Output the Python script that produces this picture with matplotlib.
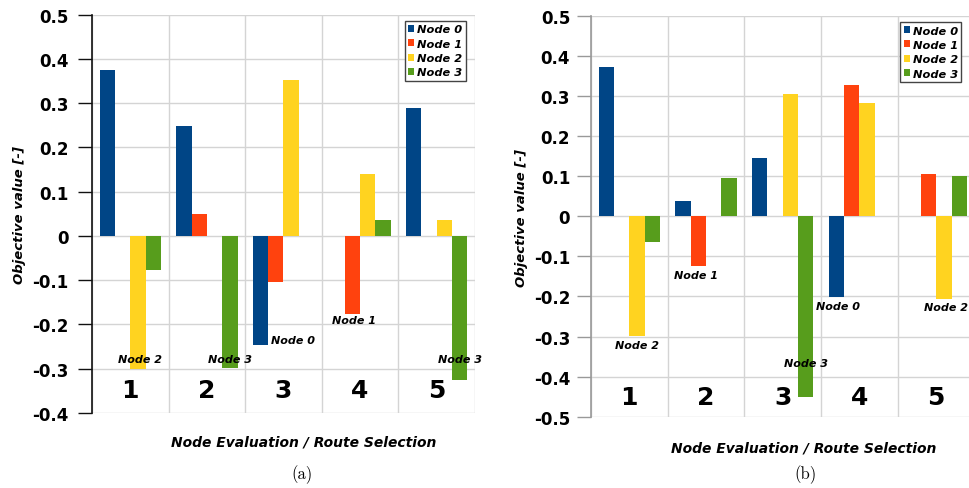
import numpy as np
import matplotlib
matplotlib.use('agg')
import matplotlib.pyplot as plt
from matplotlib.ticker import FixedLocator, FuncFormatter

# DATA ###############################################################

groups = ['1', '2', '3', '4', '5']
nodes = ['Node 0', 'Node 1', 'Node 2', 'Node 3']

# (a) objective value of every node at each evaluation step
a_node0 = [0.375, 0.248, -0.247, 0.0, 0.290]
a_node1 = [0.0, 0.049, -0.104, -0.177, 0.0]
a_node2 = [-0.300, 0.0, 0.353, 0.141, 0.035]
a_node3 = [-0.076, -0.299, 0.0, 0.035, -0.325]
a_selected = [2, 3, 0, 1, 3]

# (b)
b_node0 = [0.373, 0.038, 0.145, -0.202, 0.0]
b_node1 = [0.0, -0.123, 0.0, 0.327, 0.105]
b_node2 = [-0.299, 0.0, 0.306, 0.282, -0.206]
b_node3 = [-0.063, 0.096, -0.451, 0.0, 0.101]
b_selected = [2, 1, 3, 0, 2]

# STYLE ##############################################################

COLORS = ['#004586', '#ff420e', '#ffd320', '#579d1c']
GRID = '#d4d4d4'
BAR_W = 0.2

plt.rcParams['font.family'] = 'DejaVu Sans'


def tick_fmt(v, pos):
    return '{:g}'.format(round(v, 1) + 0.0)


def draw_panel(ax, series, selected, ylim, label_offsets, label_y, spine_col, tick_pad, leg_x):
    x = np.arange(len(groups))
    offsets = (np.arange(len(nodes)) - 1.5) * BAR_W
    for i, vals in enumerate(series):
        ax.bar(x + offsets[i], vals, BAR_W, color=COLORS[i], label=nodes[i],
               linewidth=0, zorder=3)

    ax.set_xlim(-0.5, len(groups) - 0.5)
    ax.set_ylim(*ylim)
    ax.yaxis.set_major_locator(FixedLocator(np.round(np.arange(ylim[0], ylim[1] + 0.05, 0.1), 1)))
    ax.yaxis.set_major_formatter(FuncFormatter(tick_fmt))
    ax.set_xticks(np.arange(len(groups) + 1) - 0.5)
    ax.set_xticklabels([])
    ax.tick_params(axis='x', length=0)
    ax.tick_params(axis='y', length=10, width=1, color=spine_col, pad=tick_pad,
                   labelsize=12)
    for t in ax.get_yticklabels():
        t.set_fontweight('bold')
    ax.grid(True, color=GRID, linewidth=1, zorder=0)
    ax.set_axisbelow(True)
    for s in ['top', 'right', 'bottom']:
        ax.spines[s].set_visible(False)
    ax.spines['left'].set_color(spine_col)
    ax.spines['left'].set_linewidth(1.2)
    ax.spines['left'].set_zorder(4)

    # stage numbers sit inside the plot, near the bottom
    for i, g in enumerate(groups):
        ax.text(x[i], label_y, g, transform=ax.get_xaxis_transform(),
                ha='center', va='center', fontsize=18, fontweight='bold', zorder=5)

    # name of the node picked at each stage
    for i, n in enumerate(selected):
        dx, dy = label_offsets[i]
        ax.text(x[i] + offsets[n] + dx, series[n][i] + dy, nodes[n],
                ha='center', va='center', fontsize=8, fontweight='bold',
                style='italic', zorder=6)

    leg = ax.legend(loc='upper right', bbox_to_anchor=(leg_x, 0.984),
                    fontsize=8.2, handlelength=0.55, handleheight=0.55, handletextpad=0.25,
                    labelspacing=0.38, borderpad=0.3, borderaxespad=0, fancybox=False,
                    framealpha=1)
    leg.get_frame().set_edgecolor('#444444')
    leg.get_frame().set_linewidth(1.0)
    for t in leg.get_texts():
        t.set_fontweight('bold')
        t.set_fontstyle('italic')
    leg.set_zorder(7)


fig = plt.figure(figsize=(9.69, 4.89), dpi=100)
ax_a = fig.add_axes([0.0949, 0.1534, 0.3953, 0.8145])
ax_b = fig.add_axes([0.6099, 0.1456, 0.3958, 0.8202])

draw_panel(ax_a, [a_node0, a_node1, a_node2, a_node3], a_selected, (-0.4, 0.5),
           [(0.03, 0.021), (0.0, 0.022), (0.42, 0.011), (0.02, -0.013), (0.0, 0.048)],
           0.0585, '#111111', 7, 0.976)
draw_panel(ax_b, [b_node0, b_node1, b_node2, b_node3], b_selected, (-0.5, 0.5),
           [(0.0, -0.022), (-0.03, -0.023), (0.0, 0.085), (0.02, -0.021), (0.03, -0.020)],
           0.0486, '#999999', 5, 0.966)

ylab = dict(rotation=90, ha='center', va='center', fontsize=9.5,
            fontweight='bold', style='italic')
fig.text(20 / 969, 1 - 215 / 489, 'Objective value [-]', **ylab)
fig.text(522 / 969, 1 - 218 / 489, 'Objective value [-]', **ylab)

xlab = dict(ha='center', va='center', fontsize=10, fontweight='bold', style='italic')
fig.text(304 / 969, 1 - 443 / 489, 'Node Evaluation / Route Selection', **xlab)
fig.text(804 / 969, 1 - 449 / 489, 'Node Evaluation / Route Selection', **xlab)

fig.text(302 / 969, 1 - 475 / 489, '(a)', ha='center', va='center', fontsize=12, family='cmr10')
fig.text(805 / 969, 1 - 475 / 489, '(b)', ha='center', va='center', fontsize=12, family='cmr10')

fig.savefig('out.png', dpi=100)
